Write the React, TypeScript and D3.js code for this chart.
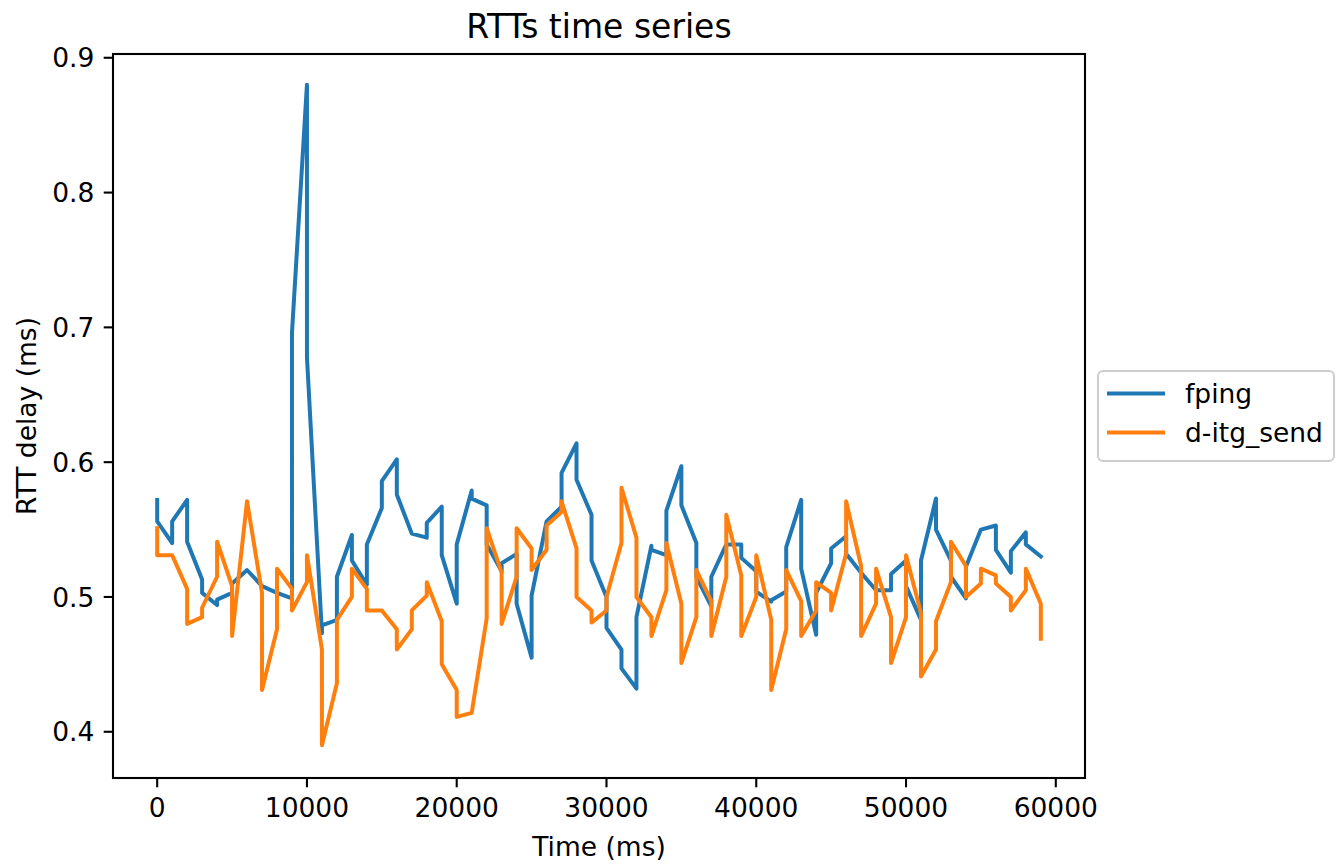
import React from "react";
import * as d3 from "d3";

// ---- data ----
const timesMs = [
  0, 1000, 2000, 3000, 4000, 5000, 6000, 7000, 8000, 9000,
  10000, 11000, 12000, 13000, 14000, 15000, 16000, 17000, 18000, 19000,
  20000, 21000, 22000, 23000, 24000, 25000, 26000, 27000, 28000, 29000,
  30000, 31000, 32000, 33000, 34000, 35000, 36000, 37000, 38000, 39000,
  40000, 41000, 42000, 43000, 44000, 45000, 46000, 47000, 48000, 49000,
  50000, 51000, 52000, 53000, 54000, 55000, 56000, 57000, 58000, 59000,
];

// two samples recorded at each timestamp (first, second)
const fpingFirst = [
  0.572, 0.540, 0.572, 0.513, 0.494, 0.503, 0.520, 0.508, 0.503, 0.499,
  0.880, 0.473, 0.483, 0.546, 0.509, 0.566, 0.602, 0.547, 0.544, 0.567,
  0.495, 0.579, 0.568, 0.519, 0.532, 0.455, 0.556, 0.567, 0.614, 0.561,
  0.500, 0.461, 0.432, 0.538, 0.531, 0.597, 0.540, 0.493, 0.539, 0.539,
  0.519, 0.4965, 0.504, 0.572, 0.472, 0.525, 0.545, 0.518, 0.505, 0.505,
  0.527, 0.483, 0.573, 0.527, 0.499, 0.550, 0.553, 0.518, 0.548, 0.530,
];
const fpingSecond = [
  0.556, 0.556, 0.541, 0.503, 0.498, 0.510, 0.520, 0.508, 0.503, 0.696,
  0.678, 0.479, 0.515, 0.527, 0.539, 0.586, 0.576, 0.547, 0.555, 0.531,
  0.539, 0.573, 0.539, 0.525, 0.495, 0.501, 0.556, 0.592, 0.587, 0.527,
  0.477, 0.447, 0.485, 0.535, 0.564, 0.568, 0.515, 0.515, 0.539, 0.529,
  0.504, 0.4975, 0.537, 0.521, 0.503, 0.536, 0.532, 0.518, 0.505, 0.517,
  0.508, 0.527, 0.550, 0.515, 0.5225, 0.550, 0.535, 0.534, 0.539, 0.530,
];
const ditgFirst = [
  0.551, 0.531, 0.506, 0.485, 0.515, 0.508, 0.571, 0.503, 0.476, 0.506,
  0.511, 0.461, 0.436, 0.500, 0.506, 0.490, 0.476, 0.476, 0.501, 0.482,
  0.431, 0.414, 0.484, 0.518, 0.515, 0.536, 0.535, 0.563, 0.536, 0.490,
  0.490, 0.540, 0.544, 0.485, 0.505, 0.495, 0.485, 0.497, 0.515, 0.516,
  0.500, 0.483, 0.476, 0.497, 0.490, 0.503, 0.532, 0.523, 0.495, 0.485,
  0.485, 0.488, 0.461, 0.511, 0.523, 0.510, 0.516, 0.500, 0.505, 0.495,
];
const ditgSecond = [
  0.531, 0.531, 0.480, 0.492, 0.541, 0.471, 0.571, 0.431, 0.521, 0.490,
  0.531, 0.390, 0.483, 0.521, 0.490, 0.490, 0.461, 0.490, 0.511, 0.450,
  0.411, 0.414, 0.551, 0.480, 0.551, 0.520, 0.553, 0.571, 0.500, 0.481,
  0.500, 0.581, 0.500, 0.471, 0.540, 0.451, 0.520, 0.471, 0.561, 0.471,
  0.531, 0.431, 0.520, 0.471, 0.511, 0.490, 0.571, 0.471, 0.521, 0.451,
  0.531, 0.441, 0.482, 0.541, 0.500, 0.521, 0.510, 0.490, 0.521, 0.469,
];

const seriesNames = ["fping", "d-itg_send"];
const seriesColors = ["#1f77b4", "#ff7f0e"];
const xTicks = [0, 10000, 20000, 30000, 40000, 50000, 60000];
const yTicks = [0.4, 0.5, 0.6, 0.7, 0.8, 0.9];

// ---- layout ----
const W = 1341;
const H = 866;
const left = 113;
const right = 1085;
const top = 54;
const bottom = 778;
const FONT = "'DejaVu Sans', sans-serif";
const TICK_FS = 26.5;
const TICK_LEN = 9.3;

type Pt = [number, number];

function buildPoints(first: number[], second: number[]): Pt[] {
  const pts: Pt[] = [];
  timesMs.forEach((t, i) => {
    pts.push([t, first[i]]);
    pts.push([t, second[i]]);
  });
  return pts;
}

export default function App() {
  const x = d3.scaleLinear().domain([-2950, 61950]).range([left, right]);
  const y = d3.scaleLinear().domain([0.3657, 0.9028]).range([bottom, top]);

  const line = d3
    .line<Pt>()
    .x((d) => x(d[0]))
    .y((d) => y(d[1]));

  const series = [
    buildPoints(fpingFirst, fpingSecond),
    buildPoints(ditgFirst, ditgSecond),
  ];

  const cx = (left + right) / 2;
  const cy = (top + bottom) / 2;

  const legX = 1098;
  const legY = 371;
  const legW = 236;
  const legH = 90;
  const rowYs = [393.5, 432.5];

  return (
    <svg
      width={W}
      height={H}
      viewBox={`0 0 ${W} ${H}`}
      style={{ position: "absolute", left: 0, top: 0, background: "#fff" }}
      fontFamily={FONT}
    >
      <rect x={0} y={0} width={W} height={H} fill="#fff" />
      <defs>
        <clipPath id="plotclip">
          <rect x={left} y={top} width={right - left} height={bottom - top} />
        </clipPath>
      </defs>

      {/* title */}
      <text x={cx} y={38} textAnchor="middle" fontSize={33} fill="#000">
        RTTs time series
      </text>

      {/* lines */}
      <g clipPath="url(#plotclip)">
        {series.map((pts, i) => (
          <path
            key={seriesNames[i]}
            d={line(pts) || ""}
            fill="none"
            stroke={seriesColors[i]}
            strokeWidth={4}
            strokeLinejoin="round"
            strokeLinecap="square"
          />
        ))}
      </g>

      {/* spines */}
      <rect
        x={left}
        y={top}
        width={right - left}
        height={bottom - top}
        fill="none"
        stroke="#000"
        strokeWidth={2.1}
      />

      {/* x ticks */}
      {xTicks.map((t) => (
        <g key={"x" + t}>
          <line
            x1={x(t)}
            x2={x(t)}
            y1={bottom}
            y2={bottom + TICK_LEN}
            stroke="#000"
            strokeWidth={2.1}
          />
          <text
            x={x(t)}
            y={bottom + 39}
            textAnchor="middle"
            fontSize={TICK_FS}
            fill="#000"
          >
            {String(t)}
          </text>
        </g>
      ))}

      {/* y ticks */}
      {yTicks.map((t) => (
        <g key={"y" + t}>
          <line
            x1={left - TICK_LEN}
            x2={left}
            y1={y(t)}
            y2={y(t)}
            stroke="#000"
            strokeWidth={2.1}
          />
          <text
            x={left - TICK_LEN - 9.3}
            y={y(t) + 9.6}
            textAnchor="end"
            fontSize={TICK_FS}
            fill="#000"
          >
            {t.toFixed(1)}
          </text>
        </g>
      ))}

      {/* axis labels */}
      <text x={cx} y={856} textAnchor="middle" fontSize={TICK_FS} fill="#000">
        Time (ms)
      </text>
      <text
        transform={`translate(36, ${cy}) rotate(-90)`}
        textAnchor="middle"
        fontSize={TICK_FS}
        fill="#000"
      >
        RTT delay (ms)
      </text>

      {/* legend */}
      <rect
        x={legX}
        y={legY}
        width={legW}
        height={legH}
        rx={5}
        ry={5}
        fill="#fff"
        fillOpacity={0.8}
        stroke="#cccccc"
        strokeWidth={2}
      />
      {seriesNames.map((name, i) => (
        <g key={"leg" + name}>
          <line
            x1={1109}
            x2={1163}
            y1={rowYs[i]}
            y2={rowYs[i]}
            stroke={seriesColors[i]}
            strokeWidth={4}
            strokeLinecap="square"
          />
          <text x={1185} y={rowYs[i] + 9} fontSize={TICK_FS} fill="#000">
            {name}
          </text>
        </g>
      ))}
    </svg>
  );
}
